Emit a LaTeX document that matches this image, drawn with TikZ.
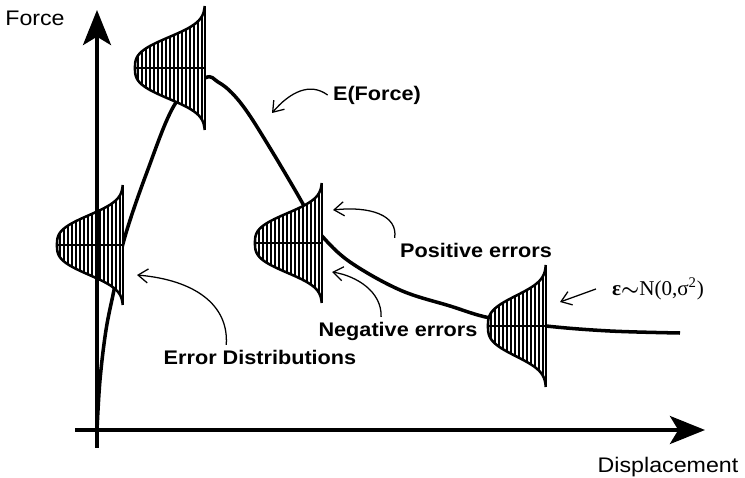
\documentclass[tikz,border=0pt]{standalone}
\usepackage{fontspec}
\setmainfont{Liberation Sans}
\newfontfamily\serifrm{Liberation Serif}
\usetikzlibrary{arrows.meta}

% sideways error distribution: base x, centre y, width, half height
\newcommand{\errdist}[4]{%
  \fill[white] plot[domain=-#4:#4, samples=61] ({#1-#3*exp(-pow(abs(\x)/(0.57*#4),3))}, {#2+\x}) -- cycle;
  \begin{scope}
    \clip plot[domain=-#4:#4, samples=61] ({#1-#3*exp(-pow(abs(\x)/(0.57*#4),3))}, {#2+\x}) -- cycle;
    \foreach \k in {1,...,18}
      \draw[line width=0.9pt] ({#1+1-4*\k}, {#2-#4}) -- ({#1+1-4*\k}, {#2+#4});
  \end{scope}
  \draw[line width=1.8pt] plot[domain=-#4:#4, samples=61] ({#1-#3*exp(-pow(abs(\x)/(0.57*#4),3))}, {#2+\x});
  \draw[line width=1.3pt] ({#1-#3}, #2) -- (#1, #2);
  \draw[line width=2pt] (#1, {#2-#4}) -- (#1, {#2+#4});
}

\begin{document}
\begin{tikzpicture}[x=0.025cm, y=-0.025cm,
  plain/.style={font=\fontsize{15}{18}\selectfont, xscale=1.1},
  bold/.style={font=\fontsize{14}{17}\selectfont\bfseries, xscale=1.1},
  curve/.style={line width=2.5pt, line join=round},
  axis/.style={line width=2.2pt, -{Stealth[length=25pt, width=20pt, inset=6pt]}},
  lbl/.style={line width=0.9pt, -{Straight Barb[length=7pt, width=10pt]}}]
  \useasboundingbox (0,0) rectangle (745,478);

  % expected force
  \draw[curve] plot[smooth, tension=0.6] coordinates {(97,430) (100,380) (106,330) (114,290) (124,240) (147,172) (175,104) (205,78) (218,82) (232,93) (248,113) (270,148) (295,190) (312,220) (322,236) (350,262) (400,290) (450,306) (490,318) (546,326) (610,331) (680,333)};

  % error distributions
  \errdist{123}{245}{66}{60}
  \errdist{205}{68}{70}{62}
  \errdist{322}{243}{67}{60}
  \errdist{546}{326}{58}{61}

  % axes
  \coordinate (ybot) at (97,448);
  \coordinate (ytop) at (97,10);
  \coordinate (xleft) at (75,430);
  \coordinate (xright) at (705,430);
  \draw[axis] (ybot) -- (ytop);
  \draw[axis] (xleft) -- (xright);

  % labels
  \node[plain] (force) at (35,18) {Force};
  \node[plain] (disp) at (668,467) {Displacement};
  \node[bold] (ef) at (377,95) {E(Force)};
  \node[bold] (pos) at (476,250) {Positive errors};
  \node[bold] (neg) at (398,331) {Negative errors};
  \node[bold] (errd) at (260,357) {Error Distributions};
  \node[font=\fontsize{15}{18}\selectfont] (eps) at (658,289) {{\serifrm\bfseries ε}{\boldmath$\sim$}{\serifrm N(0,σ\textsuperscript{2})}};

  \coordinate (eftip) at (272,113);
  \coordinate (postip) at (333,210);
  \coordinate (negtip) at (332,272);
  \coordinate (edtip) at (137,275);
  \coordinate (epstip) at (560,302);
  \draw[lbl] (ef.west) .. controls (310,82) and (290,92) .. (eftip);
  \draw[lbl] (pos.north west) .. controls (398,215) and (370,206) .. (postip);
  \draw[lbl] ([xshift=-12pt]neg.north) .. controls (382,292) and (357,276) .. (negtip);
  \draw[lbl] ([xshift=-24pt]errd.north) .. controls (229,305) and (195,280) .. (edtip);
  \draw[lbl] ([xshift=-8pt]eps.west) -- (epstip);
\end{tikzpicture}
\end{document}
